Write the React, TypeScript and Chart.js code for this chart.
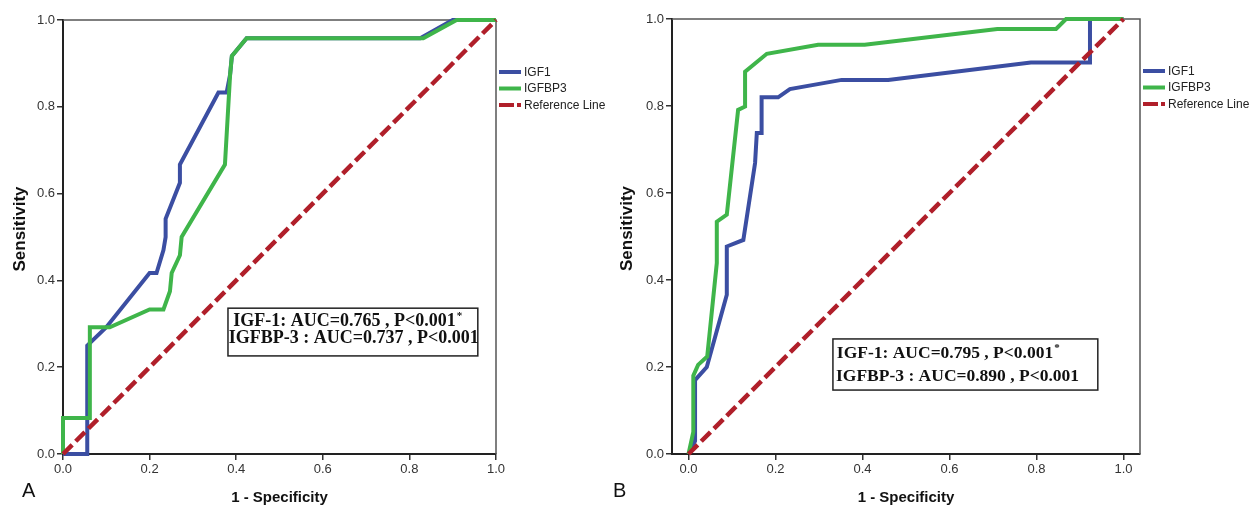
import React, { useEffect, useRef } from 'react';
import { Chart, registerables } from 'chart.js';

Chart.register(...registerables);
Chart.defaults.font.family = '"Liberation Sans", Arial, sans-serif';

// ---------- data ----------
const TICKS = [0, 0.2, 0.4, 0.6, 0.8, 1.0];
const LEGEND_LABELS = ['IGF1', 'IGFBP3', 'Reference Line'];
const REF_X = [0, 1];
const REF_Y = [0, 1];

// Panel A
const A_IGF1_X = [0, 0.056, 0.056, 0.1, 0.2, 0.216, 0.232, 0.237, 0.237, 0.27, 0.27, 0.359, 0.378, 0.386, 0.39, 0.424, 0.825, 0.9, 1];
const A_IGF1_Y = [0, 0, 0.25, 0.292, 0.417, 0.417, 0.47, 0.5, 0.542, 0.625, 0.667, 0.833, 0.833, 0.875, 0.917, 0.958, 0.958, 1, 1];
const A_IGFBP3_X = [0, 0, 0.062, 0.062, 0.108, 0.2, 0.232, 0.247, 0.251, 0.27, 0.274, 0.374, 0.386, 0.39, 0.424, 0.832, 0.909, 1];
const A_IGFBP3_Y = [0, 0.083, 0.083, 0.292, 0.292, 0.333, 0.333, 0.375, 0.417, 0.458, 0.5, 0.667, 0.875, 0.917, 0.958, 0.958, 1, 1];
const A_TEXT = ['IGF-1: AUC=0.765 , P<0.001', 'IGFBP-3 : AUC=0.737 , P<0.001'];

// Panel B
const B_IGF1_X = [0, 0.015, 0.015, 0.042, 0.088, 0.088, 0.126, 0.153, 0.157, 0.168, 0.168, 0.206, 0.233, 0.352, 0.459, 0.787, 0.923, 0.923, 1];
const B_IGF1_Y = [0, 0.03, 0.17, 0.2, 0.366, 0.477, 0.492, 0.669, 0.738, 0.738, 0.82, 0.82, 0.839, 0.86, 0.86, 0.9, 0.9, 1, 1];
const B_IGFBP3_X = [0, 0.011, 0.011, 0.022, 0.043, 0.065, 0.065, 0.088, 0.114, 0.13, 0.13, 0.18, 0.298, 0.405, 0.71, 0.845, 0.868, 1];
const B_IGFBP3_Y = [0, 0.051, 0.18, 0.205, 0.224, 0.439, 0.534, 0.55, 0.791, 0.799, 0.879, 0.92, 0.941, 0.941, 0.977, 0.977, 1, 1];
const B_TEXT = ['IGF-1: AUC=0.795 , P<0.001', 'IGFBP-3 : AUC=0.890 , P<0.001'];

// ---------- styles ----------
const BLUE = '#3b4ea2';
const GREEN = '#3fb54a';
const RED = '#b01f2a';
const H = 506;

type PanelCfg = {
  letter: string;
  left: number;
  width: number;
  padTop: number;
  padRight: number;
  yAxisW: number;
  xMin: number;
  xMax: number;
  yTitleX: number;
  letterX: number;
  igf1: [number[], number[]];
  igfbp3: [number[], number[]];
  text: string[];
  box: [number, number, number, number]; // x0, x1, yTop, yBottom (data units)
  textPos: [number, number, number, number]; // line1 x, line1 y, line2 x, line2 y (data units)
  textFont: number;
};

const PANELS: PanelCfg[] = [
  {
    letter: 'A', left: 0, width: 612, padTop: 20, padRight: 116, yAxisW: 63,
    xMin: 0, xMax: 1, yTitleX: 20, letterX: 22,
    igf1: [A_IGF1_X, A_IGF1_Y], igfbp3: [A_IGFBP3_X, A_IGFBP3_Y], text: A_TEXT,
    box: [0.381, 0.958, 0.336, 0.226], textPos: [0.393, 0.306, 0.383, 0.266], textFont: 18,
  },
  {
    letter: 'B', left: 612, width: 639, padTop: 19, padRight: 111, yAxisW: 60,
    xMin: -0.038, xMax: 1.038, yTitleX: 15, letterX: 1,
    igf1: [B_IGF1_X, B_IGF1_Y], igfbp3: [B_IGFBP3_X, B_IGFBP3_Y], text: B_TEXT,
    box: [0.332, 0.941, 0.2645, 0.147], textPos: [0.341, 0.232, 0.339, 0.178], textFont: 17.5,
  },
];

const toPts = (xs: number[], ys: number[]) => xs.map((x, i) => ({ x, y: ys[i] }));

function makePlugin(cfg: PanelCfg) {
  return {
    id: 'rocDecor' + cfg.letter,
    beforeDatasetsDraw(chart: any) {
      const { ctx, chartArea: ca } = chart;
      ctx.save();
      ctx.strokeStyle = '#555';
      ctx.lineWidth = 1.5;
      ctx.beginPath();
      ctx.moveTo(ca.left, ca.top);
      ctx.lineTo(ca.right, ca.top);
      ctx.lineTo(ca.right, ca.bottom);
      ctx.stroke();
      ctx.restore();
    },
    afterDraw(chart: any) {
      const { ctx, chartArea: ca, scales } = chart;
      const xs = scales.x, ys = scales.y;
      ctx.save();
      // axis titles
      ctx.fillStyle = '#111';
      ctx.textAlign = 'center';
      ctx.textBaseline = 'middle';
      ctx.font = 'bold 15px "Liberation Sans", Arial, sans-serif';
      ctx.fillText('1 - Specificity', (ca.left + ca.right) / 2, ca.bottom + 44);
      ctx.save();
      ctx.translate(cfg.yTitleX, (ca.top + ca.bottom) / 2 - 8);
      ctx.rotate(-Math.PI / 2);
      ctx.font = 'bold 17px "Liberation Sans", Arial, sans-serif';
      ctx.fillText('Sensitivity', 0, 0);
      ctx.restore();
      // panel letter
      ctx.textAlign = 'left';
      ctx.font = '20px "Liberation Sans", Arial, sans-serif';
      ctx.fillText(cfg.letter, cfg.letterX, ca.bottom + 37);
      // legend
      const lx = ca.right + 3;
      LEGEND_LABELS.forEach((lab, i) => {
        const ds = chart.data.datasets.find((d: any) => d.label === lab);
        const y = ca.top + 52 + i * 16.5;
        ctx.save();
        ctx.strokeStyle = ds.borderColor;
        ctx.lineWidth = 4;
        ctx.setLineDash(ds.borderDash ? [15, 3] : []);
        ctx.beginPath();
        ctx.moveTo(lx, y);
        ctx.lineTo(lx + 22, y);
        ctx.stroke();
        ctx.restore();
        ctx.fillStyle = '#222';
        ctx.font = '12px "Liberation Sans", Arial, sans-serif';
        ctx.textBaseline = 'middle';
        ctx.fillText(lab, lx + 25, y + 0.5);
      });
      // annotation box
      const bx0 = xs.getPixelForValue(cfg.box[0]);
      const bx1 = xs.getPixelForValue(cfg.box[1]);
      const by0 = ys.getPixelForValue(cfg.box[2]);
      const by1 = ys.getPixelForValue(cfg.box[3]);
      ctx.fillStyle = '#fff';
      ctx.fillRect(bx0, by0, bx1 - bx0, by1 - by0);
      ctx.strokeStyle = '#222';
      ctx.lineWidth = 1.5;
      ctx.strokeRect(bx0, by0, bx1 - bx0, by1 - by0);
      ctx.fillStyle = '#111';
      ctx.textAlign = 'left';
      ctx.textBaseline = 'middle';
      ctx.font = `bold ${cfg.textFont}px "Liberation Serif", "Times New Roman", serif`;
      const t1x = xs.getPixelForValue(cfg.textPos[0]);
      const t1y = ys.getPixelForValue(cfg.textPos[1]);
      const t2x = xs.getPixelForValue(cfg.textPos[2]);
      const t2y = ys.getPixelForValue(cfg.textPos[3]);
      ctx.fillText(cfg.text[0], t1x, t1y);
      const w1 = ctx.measureText(cfg.text[0]).width;
      ctx.fillText(cfg.text[1], t2x, t2y);
      ctx.font = 'bold 11px "Liberation Serif", "Times New Roman", serif';
      ctx.fillText('*', t1x + w1 + 1, t1y - 5);
      ctx.restore();
    },
  };
}

function RocPanel({ cfg }: { cfg: PanelCfg }) {
  const ref = useRef<HTMLCanvasElement>(null);
  useEffect(() => {
    const common = {
      showLine: true,
      pointRadius: 0,
      pointHoverRadius: 0,
      tension: 0,
      fill: false,
      clip: false as any,
    };
    const setTicks = (scale: any) => {
      scale.ticks = TICKS.map((v) => ({ value: v }));
    };
    const grid = {
      display: true,
      drawOnChartArea: false,
      drawTicks: true,
      tickLength: 6,
      color: '#333',
      lineWidth: 1.5,
    };
    const tickStyle = {
      color: '#333',
      font: { size: 13 },
      padding: 2,
      autoSkip: false,
      maxRotation: 0,
      callback: (v: any) => Number(v).toFixed(1),
    };
    const chart = new Chart(ref.current!, {
      type: 'scatter',
      data: {
        datasets: [
          { ...common, label: 'Reference Line', data: toPts(REF_X, REF_Y), borderColor: RED, borderWidth: 4.5, borderDash: [13, 5], order: 0 },
          { ...common, label: 'IGFBP3', data: toPts(cfg.igfbp3[0], cfg.igfbp3[1]), borderColor: GREEN, borderWidth: 4, order: 1 },
          { ...common, label: 'IGF1', data: toPts(cfg.igf1[0], cfg.igf1[1]), borderColor: BLUE, borderWidth: 4, order: 2 },
        ] as any,
      },
      options: {
        animation: false,
        responsive: false,
        maintainAspectRatio: false,
        events: [],
        layout: { padding: { left: 0, top: cfg.padTop, right: cfg.padRight, bottom: 0 } },
        plugins: { legend: { display: false }, tooltip: { enabled: false }, title: { display: false } },
        scales: {
          x: {
            type: 'linear',
            min: cfg.xMin,
            max: cfg.xMax,
            afterBuildTicks: setTicks,
            afterFit: (s: any) => { s.height = 52; },
            grid,
            border: { display: true, color: '#222', width: 2 },
            ticks: tickStyle,
          },
          y: {
            type: 'linear',
            min: 0,
            max: 1,
            afterBuildTicks: setTicks,
            afterFit: (s: any) => { s.width = cfg.yAxisW; },
            grid,
            border: { display: true, color: '#222', width: 2 },
            ticks: tickStyle,
          },
        },
      } as any,
      plugins: [makePlugin(cfg)],
    });
    return () => chart.destroy();
  }, [cfg]);
  return (
    <canvas
      ref={ref}
      width={cfg.width}
      height={H}
      style={{ position: 'absolute', left: cfg.left, top: 0, width: cfg.width, height: H, display: 'block' }}
    />
  );
}

export default function App() {
  return (
    <div style={{ position: 'fixed', left: 0, top: 0, width: 1251, height: H, background: '#fff', overflow: 'hidden' }}>
      {PANELS.map((p) => (
        <RocPanel key={p.letter} cfg={p} />
      ))}
    </div>
  );
}
